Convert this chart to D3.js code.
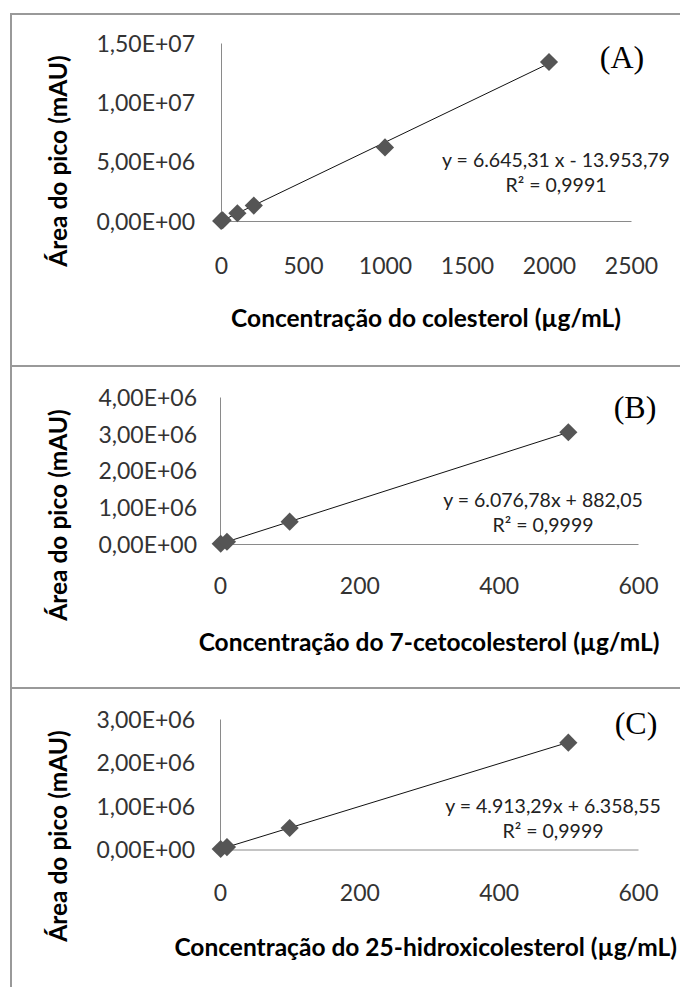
<!DOCTYPE html>
<html>
<head>
<meta charset="utf-8">
<title>Curvas de calibração</title>
<script src="https://d3js.org/d3.v7.min.js"></script>
<style>
  body { margin: 0; background: #fff; }
  .tick text { font-family: Lato, sans-serif; font-size: 23px; fill: #333; }
  .axis-title { font-family: Lato, sans-serif; font-weight: bold; font-size: 24.5px; fill: #000; }
  .eq { font-family: Lato, sans-serif; font-size: 19.5px; fill: #222; }
  .tag { font-family: "Liberation Serif", serif; font-size: 32px; fill: #000; }
</style>
</head>
<body>
<svg id="fig" width="680" height="987"></svg>
<script>
// --- dados ---
var concA = [1, 10, 100, 200, 1000, 2000];
var areaA = [6000, 65000, 650000, 1300000, 6200000, 13400000];
var concB = [1, 10, 100, 500];
var areaB = [6900, 61000, 607000, 3040000];
var concC = [1, 10, 100, 500];
var areaC = [11000, 55000, 495000, 2455000];

// coeficientes da linha de tendência (texto da figura)
var fitA = [6645.31, -13953.79];
var fitB = [6076.78, 882.05];
var fitC = [4913.29, 6358.55];
var eqA = ["y = 6.645,31 x - 13.953,79", "R² = 0,9991"];
var eqB = ["y = 6.076,78x + 882,05", "R² = 0,9999"];
var eqC = ["y = 4.913,29x + 6.358,55", "R² = 0,9999"];

var xTicksA = [0, 500, 1000, 1500, 2000, 2500];
var xTicksB = [0, 200, 400, 600];
var yTicksA = [0, 5e6, 1e7, 1.5e7];
var yTicksB = [0, 1e6, 2e6, 3e6, 4e6];
var yTicksC = [0, 1e6, 2e6, 3e6];

var yTitle = "Área do pico (mAU)";
var xTitles = ["Concentração do colesterol (µg/mL)",
               "Concentração do 7-cetocolesterol (µg/mL)",
               "Concentração do 25-hidroxicolesterol (µg/mL)"];
var tags = ["(A)", "(B)", "(C)"];

// --- layout de cada painel ---
var panels = [
  {x: concA, y: areaA, fit: fitA, eq: eqA, xt: xTicksA, yt: yTicksA, xmax: 2500, ymax: 1.5e7,
   box: 14, left: 221, right: 631, top: 43, bottom: 221, ypad: 26, xpad: 37,
   eqx: 556, eqy: 160, tagx: 622, tagy: 57, ytx: 58, yty: 161, xty: 318},
  {x: concB, y: areaB, fit: fitB, eq: eqB, xt: xTicksB, yt: yTicksB, xmax: 600, ymax: 4e6,
   box: 366, left: 220, right: 638, top: 397, bottom: 544, ypad: 23, xpad: 34,
   eqx: 543, eqy: 500, tagx: 635, tagy: 407, ytx: 58, yty: 515, xty: 642},
  {x: concC, y: areaC, fit: fitC, eq: eqC, xt: xTicksB, yt: yTicksC, xmax: 600, ymax: 3e6,
   box: 688, left: 220, right: 638, top: 719, bottom: 849.5, ypad: 25, xpad: 35,
   eqx: 553, eqy: 806, tagx: 636, tagy: 723, ytx: 58, yty: 836, xty: 947}
];

var svg = d3.select('#fig');

// formato 0,00E+00
function sci(v) {
  if (v === 0) return "0,00E+00";
  var e = Math.floor(Math.log10(v));
  var m = v / Math.pow(10, e);
  return m.toFixed(2).replace('.', ',') + "E+" + (e < 10 ? "0" : "") + e;
}

var diamond = d3.symbol().type(d3.symbolSquare).size(165);

panels.forEach(function(p) {
  // moldura
  svg.append('rect')
    .attr('x', 11).attr('y', p.box)
    .attr('width', 700).attr('height', 1000)
    .attr('fill', 'none').attr('stroke', '#999').attr('stroke-width', 2);
});

panels.forEach(function(p, i) {
  var g = svg.append('g');
  var x = d3.scaleLinear().domain([0, p.xmax]).range([p.left, p.right]);
  var y = d3.scaleLinear().domain([0, p.ymax]).range([p.bottom, p.top]);

  g.append('g')
    .attr('transform', 'translate(0,' + p.bottom + ')')
    .call(d3.axisBottom(x).tickValues(p.xt).tickFormat(d3.format('d'))
      .tickSize(0).tickSizeOuter(0).tickPadding(p.xpad));
  var yAxis = g.append('g')
    .attr('transform', 'translate(' + p.left + ',0)')
    .call(d3.axisLeft(y).tickValues(p.yt).tickFormat(sci)
      .tickSize(0).tickSizeOuter(0).tickPadding(p.ypad));
  g.selectAll('.domain').attr('stroke', '#8a8a8a').attr('stroke-width', 1);
  yAxis.selectAll('.tick text').attr('dy', '0.36em');

  // linha de tendência
  var x0 = d3.min(p.x), x1 = d3.max(p.x);
  g.append('line')
    .attr('x1', x(x0)).attr('y1', y(p.fit[0] * x0 + p.fit[1]))
    .attr('x2', x(x1)).attr('y2', y(p.fit[0] * x1 + p.fit[1]))
    .attr('stroke', '#111').attr('stroke-width', 1);

  // pontos
  g.selectAll('.pt').data(p.x).enter().append('path')
    .attr('class', 'pt')
    .attr('d', diamond)
    .attr('transform', function(d, j) { return 'translate(' + x(d) + ',' + y(p.y[j]) + ') rotate(45)'; })
    .attr('fill', '#555');

  // equação
  g.append('text').attr('class', 'eq')
    .attr('x', p.eqx).attr('y', p.eqy).attr('dy', '0.35em')
    .attr('text-anchor', 'middle').text(p.eq[0]);
  g.append('text').attr('class', 'eq')
    .attr('x', p.eqx).attr('y', p.eqy + 25).attr('dy', '0.35em')
    .attr('text-anchor', 'middle').text(p.eq[1]);

  // rótulo (A)/(B)/(C)
  g.append('text').attr('class', 'tag')
    .attr('x', p.tagx).attr('y', p.tagy).attr('dy', '0.35em')
    .attr('text-anchor', 'middle').text(tags[i]);

  // título do eixo y
  g.append('text').attr('class', 'axis-title')
    .attr('transform', 'translate(' + p.ytx + ',' + p.yty + ') rotate(-90)')
    .attr('dy', '0.35em').attr('text-anchor', 'middle').text(yTitle);

  // título do eixo x (centrado no gráfico, mas sem passar da borda)
  var xt = g.append('text').attr('class', 'axis-title')
    .attr('y', p.xty).attr('dy', '0.35em')
    .attr('text-anchor', 'middle').text(xTitles[i]);
  var w = xt.node().getComputedTextLength();
  var cx = Math.min((p.left + p.right) / 2, 677 - w / 2);
  xt.attr('x', cx);
});
</script>
</body>
</html>
